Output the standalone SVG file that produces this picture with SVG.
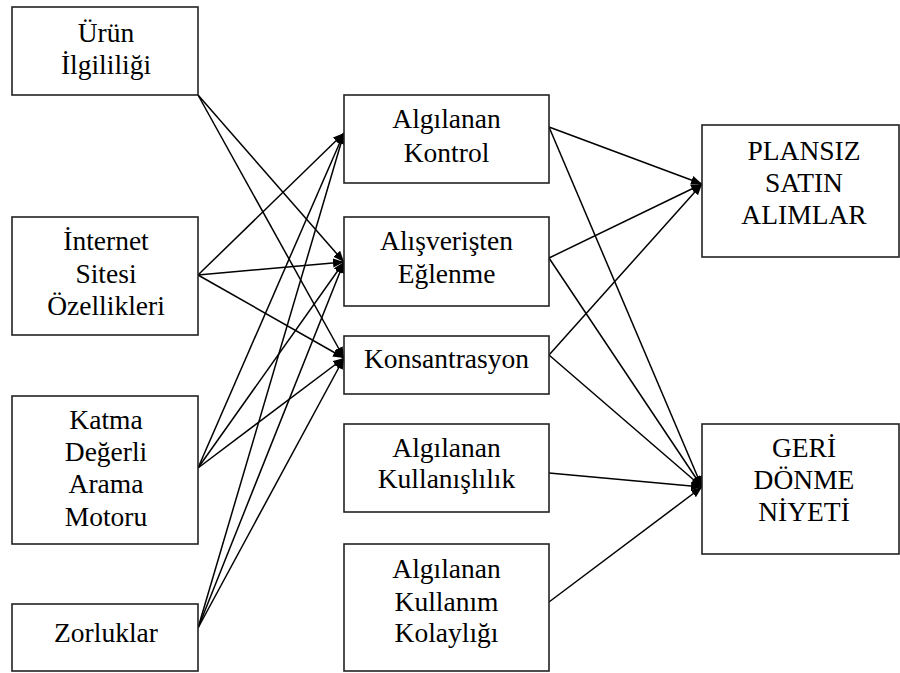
<svg xmlns="http://www.w3.org/2000/svg" width="900" height="673" viewBox="0 0 900 673">
<defs>
<marker id="ah" markerUnits="userSpaceOnUse" markerWidth="12" markerHeight="10" refX="11" refY="4.5" orient="auto">
<path d="M0,0 L11,4.5 L0,9 z" fill="#000"/>
</marker>
<style>
.box{fill:#fff;stroke:#222;stroke-width:1.6}
.t{font-size:27.5px;fill:#000;text-anchor:middle}
.c{stroke:#000;stroke-width:1.5;fill:none;marker-end:url(#ah)}
</style>
</defs>
<rect width="900" height="673" fill="#fff"/>
<g id="connectors">
<line class="c" x1="198" y1="95" x2="344" y2="262"/>
<line class="c" x1="198" y1="95" x2="344" y2="358"/>
<line class="c" x1="198" y1="275" x2="344" y2="133"/>
<line class="c" x1="198" y1="275" x2="344" y2="262"/>
<line class="c" x1="198" y1="275" x2="344" y2="358"/>
<line class="c" x1="198" y1="468" x2="344" y2="133"/>
<line class="c" x1="198" y1="468" x2="344" y2="262"/>
<line class="c" x1="198" y1="468" x2="344" y2="358"/>
<line class="c" x1="198" y1="628" x2="344" y2="133"/>
<line class="c" x1="198" y1="628" x2="344" y2="262"/>
<line class="c" x1="198" y1="628" x2="344" y2="358"/>
<line class="c" x1="549" y1="127" x2="702" y2="184"/>
<line class="c" x1="549" y1="127" x2="702" y2="487"/>
<line class="c" x1="549" y1="258" x2="702" y2="184"/>
<line class="c" x1="549" y1="258" x2="702" y2="487"/>
<line class="c" x1="549" y1="355" x2="702" y2="184"/>
<line class="c" x1="549" y1="355" x2="702" y2="487"/>
<line class="c" x1="549" y1="473" x2="702" y2="487"/>
<line class="c" x1="549" y1="602" x2="702" y2="487"/>
</g>
<g font-family="'Liberation Serif', Tinos, 'Times New Roman', 'DejaVu Serif', serif">
<g id="urun">
<rect class="box" x="12" y="7" width="186" height="88"/>
<text class="t" x="106" y="42">Ürün</text>
<text class="t" x="106" y="74">İlgililiği</text>
</g>
<g id="internet">
<rect class="box" x="12" y="217" width="186" height="118"/>
<text class="t" x="106" y="250">İnternet</text>
<text class="t" x="106" y="283">Sitesi</text>
<text class="t" x="106" y="315">Özellikleri</text>
</g>
<g id="katma">
<rect class="box" x="12" y="396" width="186" height="148"/>
<text class="t" x="106" y="429">Katma</text>
<text class="t" x="106" y="461">Değerli</text>
<text class="t" x="106" y="493">Arama</text>
<text class="t" x="106" y="526">Motoru</text>
</g>
<g id="zorluklar">
<rect class="box" x="12" y="604" width="186" height="67"/>
<text class="t" x="106" y="642">Zorluklar</text>
</g>
<g id="kontrol">
<rect class="box" x="344" y="95" width="205" height="88"/>
<text class="t" x="446.5" y="128">Algılanan</text>
<text class="t" x="446.5" y="162">Kontrol</text>
</g>
<g id="eglenme">
<rect class="box" x="344" y="217" width="205" height="89"/>
<text class="t" x="446.5" y="250">Alışverişten</text>
<text class="t" x="446.5" y="283">Eğlenme</text>
</g>
<g id="konsantrasyon">
<rect class="box" x="344" y="336" width="205" height="58"/>
<text class="t" x="446.5" y="368">Konsantrasyon</text>
</g>
<g id="kullanislilik">
<rect class="box" x="344" y="424" width="205" height="88"/>
<text class="t" x="446.5" y="457">Algılanan</text>
<text class="t" x="446.5" y="488">Kullanışlılık</text>
</g>
<g id="kolaylik">
<rect class="box" x="344" y="544" width="205" height="127"/>
<text class="t" x="446.5" y="578">Algılanan</text>
<text class="t" x="446.5" y="611">Kullanım</text>
<text class="t" x="446.5" y="642">Kolaylığı</text>
</g>
<g id="plansiz">
<rect class="box" x="702" y="125" width="197" height="132"/>
<text class="t" x="804" y="160">PLANSIZ</text>
<text class="t" x="804" y="192">SATIN</text>
<text class="t" x="804" y="224">ALIMLAR</text>
</g>
<g id="geri">
<rect class="box" x="702" y="424" width="197" height="130"/>
<text class="t" x="804" y="457">GERİ</text>
<text class="t" x="804" y="489">DÖNME</text>
<text class="t" x="804" y="521">NİYETİ</text>
</g>
</g>
</svg>
